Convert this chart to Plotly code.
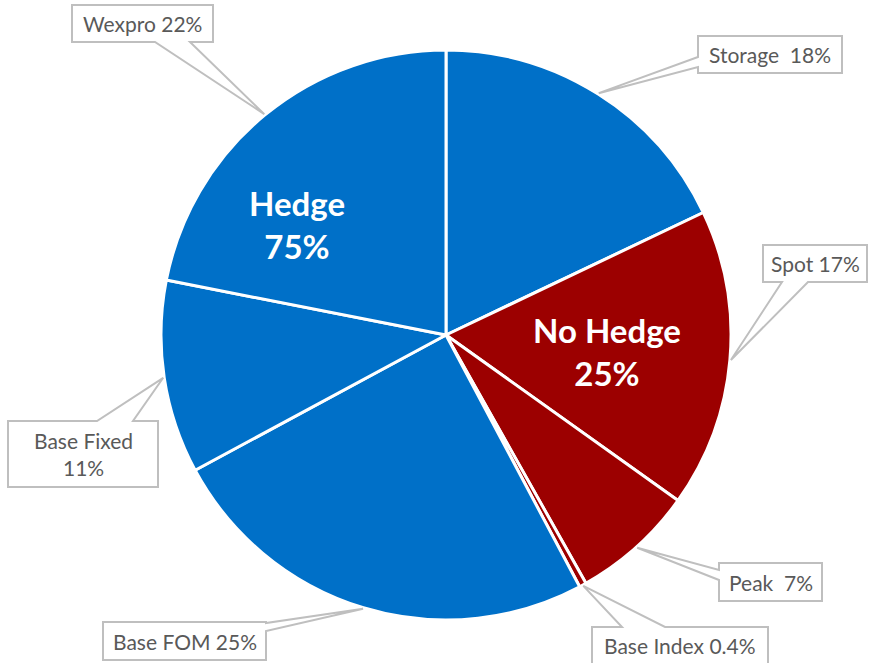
import math
import plotly.graph_objects as go

# ---- data ----
labels = ["Storage", "Spot", "Peak", "Base Index", "Base FOM", "Base Fixed", "Wexpro"]
values = [18, 17, 7, 0.4, 25, 11, 22]
label_text = ["Storage  18%", "Spot 17%", "Peak  7%", "Base Index 0.4%",
              "Base FOM 25%", "Base Fixed<br>11%", "Wexpro 22%"]
groups = ["Hedge", "No Hedge", "No Hedge", "No Hedge", "Hedge", "Hedge", "Hedge"]
group_names = ["Hedge", "No Hedge"]
group_values = [75, 25]

BLUE = "#0070C8"
RED = "#9C0000"
colors = [BLUE if g == "Hedge" else RED for g in groups]

W, H = 869, 663
CX, CY, R = 446, 335, 285

def px(x):
    return x / W

def py(y):
    return 1 - y / H

fig = go.Figure()
fig.add_trace(go.Pie(
    labels=labels, values=values, sort=False, direction="clockwise", rotation=0,
    marker=dict(colors=colors, line=dict(color="white", width=3)),
    textinfo="none", hoverinfo="label+percent", showlegend=False,
    domain=dict(x=[px(CX - R), px(CX + R)], y=[py(CY + R), py(CY - R)]),
))

# callout layout: box (x0, y0, x1, y1), side of wedge, wedge base points along traversal
callouts = {
    "Wexpro": ((72, 5, 213, 42), "bottom", (190, 155)),
    "Storage": ((698, 36, 842, 73), "left", (67, 57)),
    "Spot": ((763, 245, 867, 282), "bottom", (808, 782)),
    "Peak": ((719, 563, 822, 601), "left", (580, 570)),
    "Base Index": ((592, 627, 768, 668), "top", (622, 665)),
    "Base FOM": ((103, 622, 266, 660), "right", (623, 631)),
    "Base Fixed": ((8, 421, 158, 487), "top", (97, 133)),
}

total = sum(values)
cum = 0
shapes = []
annotations = []
for lab, val, txt in zip(labels, values, label_text):
    mid = (cum + val / 2) / total * 2 * math.pi
    cum += val
    tx = CX + (R + 1) * math.sin(mid)
    ty = CY - (R + 1) * math.cos(mid)
    (x0, y0, x1, y1), side, (a, b) = callouts[lab]
    pts = [(x0, y0)]
    if side == "top":
        pts += [(a, y0), (tx, ty), (b, y0)]
    pts.append((x1, y0))
    if side == "right":
        pts += [(x1, a), (tx, ty), (x1, b)]
    pts.append((x1, y1))
    if side == "bottom":
        pts += [(a, y1), (tx, ty), (b, y1)]
    pts.append((x0, y1))
    if side == "left":
        pts += [(x0, a), (tx, ty), (x0, b)]
    path = "M " + " L ".join(f"{px(x):.5f},{py(y):.5f}" for x, y in pts) + " Z"
    shapes.append(dict(type="path", path=path, xref="paper", yref="paper",
                       fillcolor="white", line=dict(color="#BFBFBF", width=2), layer="above"))
    annotations.append(dict(x=px((x0 + x1) / 2), y=py((y0 + min(y1, H)) / 2),
                            xref="paper", yref="paper", text=txt, showarrow=False,
                            font=dict(family="Lato", size=21, color="#595959"),
                            xanchor="center", yanchor="middle"))

# big group labels
group_pos = {"Hedge": (297, 224), "No Hedge": (607, 351)}
for g, v in zip(group_names, group_values):
    gx, gy = group_pos[g]
    annotations.append(dict(x=px(gx), y=py(gy), xref="paper", yref="paper",
                            text=f"<b>{g}<br>{v}%</b>", showarrow=False,
                            font=dict(family="Lato", size=33, color="white"),
                            xanchor="center", yanchor="middle"))

fig.update_layout(
    width=W, height=H, margin=dict(l=0, r=0, t=0, b=0),
    paper_bgcolor="white", plot_bgcolor="white",
    shapes=shapes, annotations=annotations,
)
fig.write_html("out.html")
